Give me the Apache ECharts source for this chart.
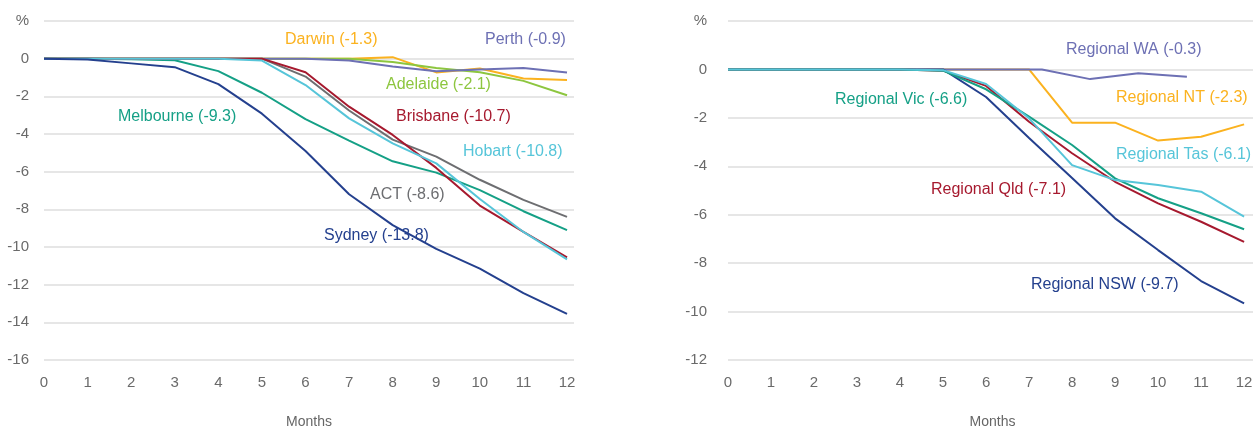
<!DOCTYPE html>
<html>
<head>
<meta charset="utf-8">
<script src="https://cdn.jsdelivr.net/npm/echarts@6/dist/echarts.min.js"></script>
<style>
  html, body { margin: 0; padding: 0; background: #fff; }
  #chart { width: 1253px; height: 430px; }
</style>
</head>
<body>
<div id="chart"></div>
<script>
// months since the start, both panels
const months = [0, 1, 2, 3, 4, 5, 6, 7, 8, 9, 10, 11, 12];

// capital cities (left panel), % change
const sydney    = [0, -0.05, -0.25, -0.45, -1.35, -2.92, -4.9, -7.2, -8.84, -10.1, -11.15, -12.45, -13.55];
const melbourne = [0, 0, -0.03, -0.08, -0.66, -1.81, -3.21, -4.35, -5.45, -6.05, -6.98, -8.1, -9.1];
const brisbane  = [0, 0, 0, 0, 0, 0, -0.72, -2.55, -4.05, -5.8, -7.8, -9.2, -10.55];
const hobart    = [0, 0, 0, 0, 0, -0.1, -1.4, -3.17, -4.5, -5.56, -7.45, -9.2, -10.66];
const act       = [0, 0, 0, 0, 0, 0, -0.95, -2.75, -4.3, -5.2, -6.43, -7.5, -8.4];
const perth     = [0, 0, 0, 0, 0, 0, 0, -0.1, -0.42, -0.67, -0.58, -0.5, -0.74];
const darwin    = [0, 0, 0, 0, 0, 0, 0, 0, 0.08, -0.73, -0.52, -1.05, -1.13];
const adelaide  = [0, 0, 0, 0, 0, 0, 0, 0, -0.18, -0.49, -0.72, -1.18, -1.94];

// regional areas (right panel), % change
const regNsw = [0, 0, 0, 0, 0, 0, -1.14, -2.83, -4.48, -6.15, -7.46, -8.74, -9.66];
const regVic = [0, 0, 0, 0, 0, -0.05, -0.82, -1.95, -3.12, -4.5, -5.32, -5.94, -6.6];
const regQld = [0, 0, 0, 0, 0, -0.05, -0.68, -2.16, -3.46, -4.64, -5.53, -6.29, -7.12];
const regTas = [0, 0, 0, 0, 0, -0.03, -0.6, -2.02, -3.95, -4.57, -4.77, -5.05, -6.08];
const regNt  = [0, 0, 0, 0, 0, 0, 0, 0, -2.2, -2.2, -2.94, -2.78, -2.27];
// regional WA is sampled on its own months
const regWaMonths = [0, 7.3, 8.42, 9.54, 10.67];
const regWa       = [0, 0, -0.4, -0.16, -0.3];

const leftYTicks = { min: -16, max: 2, interval: 2 };
const rightYTicks = { min: -12, max: 2, interval: 2 };

const C = {
  navy: '#24408e',
  teal: '#15a086',
  red: '#a6192e',
  sky: '#56c5d9',
  grey: '#6d6e71',
  lavender: '#6d70b4',
  amber: '#fbb21f',
  lime: '#8dc63f'
};

const FONT = '"Liberation Sans", Arial, sans-serif';

function pairs(xs, ys) {
  return ys.map((v, i) => [xs[i], v]);
}

function line(name, xs, ys, color, idx) {
  return {
    name: name,
    type: 'line',
    xAxisIndex: idx,
    yAxisIndex: idx,
    data: pairs(xs, ys),
    symbol: 'none',
    silent: true,
    lineStyle: { color: color, width: 2 },
    itemStyle: { color: color }
  };
}

function xAxis(idx, max) {
  return {
    type: 'value',
    gridIndex: idx,
    min: 0,
    max: max,
    interval: 1,
    name: 'Months',
    nameLocation: 'middle',
    nameGap: 55,
    nameTextStyle: { color: '#666', fontSize: 14, fontFamily: FONT },
    axisLine: { show: false },
    axisTick: { show: false },
    splitLine: { show: false },
    axisLabel: { color: '#6a6a6a', fontSize: 15, fontFamily: FONT, margin: 15, showMaxLabel: false }
  };
}

function yAxis(idx, t, margin) {
  return {
    type: 'value',
    gridIndex: idx,
    min: t.min,
    max: t.max,
    interval: t.interval,
    axisLine: { show: false },
    axisTick: { show: false },
    splitLine: { lineStyle: { color: '#e6e6e6', width: 2 } },
    axisLabel: {
      color: '#6a6a6a', fontSize: 15, fontFamily: FONT, margin: margin,
      formatter: v => (v === t.max ? '%' : String(v))
    }
  };
}

function label(text, x, y, color) {
  return {
    type: 'text',
    x: x,
    y: y,
    silent: true,
    z: 10,
    style: { text: text, fill: color, font: '16px ' + FONT, verticalAlign: 'middle', align: 'left' }
  };
}

const chart = echarts.init(document.getElementById('chart'));
chart.setOption({
  animation: false,
  backgroundColor: '#fff',
  grid: [
    { left: 44, top: 21, width: 530, height: 339, outerBoundsMode: 'none' },
    { left: 728, top: 21, width: 529, height: 339, outerBoundsMode: 'none' }
  ],
  xAxis: [xAxis(0, 12.16), xAxis(1, 12.3)],
  yAxis: [yAxis(0, leftYTicks, 15), yAxis(1, rightYTicks, 21)],
  series: [
    line('Darwin', months, darwin, C.amber, 0),
    line('Adelaide', months, adelaide, C.lime, 0),
    line('Perth', months, perth, C.lavender, 0),
    line('Melbourne', months, melbourne, C.teal, 0),
    line('ACT', months, act, C.grey, 0),
    line('Brisbane', months, brisbane, C.red, 0),
    line('Hobart', months, hobart, C.sky, 0),
    line('Sydney', months, sydney, C.navy, 0),

    line('Regional NT', months, regNt, C.amber, 1),
    line('Regional WA', regWaMonths, regWa, C.lavender, 1),
    line('Regional NSW', months, regNsw, C.navy, 1),
    line('Regional Qld', months, regQld, C.red, 1),
    line('Regional Vic', months, regVic, C.teal, 1),
    line('Regional Tas', months, regTas, C.sky, 1)
  ],
  graphic: [
    label('Darwin (-1.3)', 285, 40, C.amber),
    label('Perth (-0.9)', 485, 40, C.lavender),
    label('Adelaide (-2.1)', 386, 85, C.lime),
    label('Melbourne (-9.3)', 118, 117, C.teal),
    label('Brisbane (-10.7)', 396, 117, C.red),
    label('Hobart (-10.8)', 463, 152, C.sky),
    label('ACT (-8.6)', 370, 195, C.grey),
    label('Sydney (-13.8)', 324, 236, C.navy),
    label('Regional WA (-0.3)', 1066, 50, C.lavender),
    label('Regional NT (-2.3)', 1116, 98, C.amber),
    label('Regional Vic (-6.6)', 835, 100, C.teal),
    label('Regional Tas (-6.1)', 1116, 155, C.sky),
    label('Regional Qld (-7.1)', 931, 190, C.red),
    label('Regional NSW (-9.7)', 1031, 285, C.navy)
  ]
});
</script>
</body>
</html>
